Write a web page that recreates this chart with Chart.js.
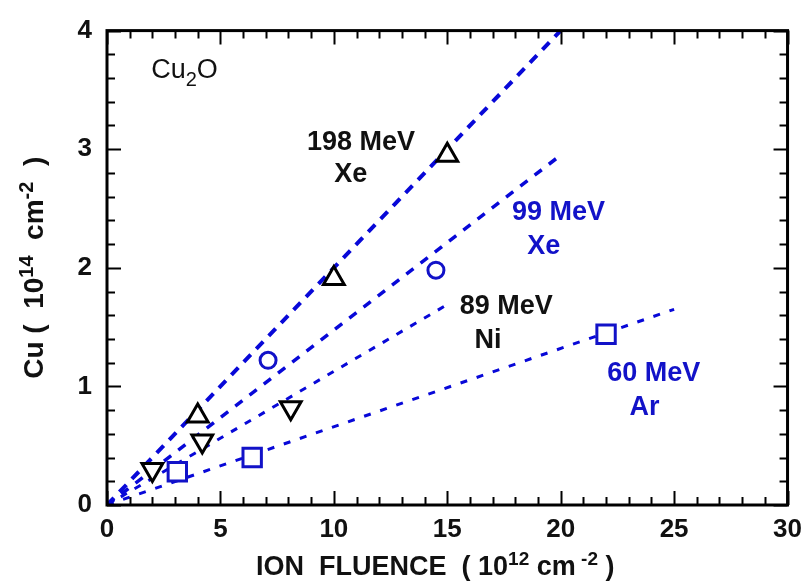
<!DOCTYPE html>
<html>
<head>
<meta charset="utf-8">
<script src="https://cdn.jsdelivr.net/npm/chart.js@4.4.1/dist/chart.umd.min.js"></script>
<style>
  html, body { margin: 0; padding: 0; background: #fff; }
</style>
</head>
<body>
<canvas id="myChart" width="811" height="583"></canvas>
<script>
// measured points
const xe198X = [4.0, 10.0, 15.0];
const xe198Y = [0.75, 1.91, 2.95];
const xe99X = [7.1, 14.5];
const xe99Y = [1.22, 1.98];
const ni89X = [2.0, 4.2, 8.1];
const ni89Y = [0.30, 0.54, 0.82];
const ar60X = [3.1, 6.4, 22.0];
const ar60Y = [0.28, 0.40, 1.44];

// fitted dashed lines (start, end)
const xe198LineX = [0, 20];
const xe198LineY = [0, 4.0];
const xe99LineX = [0, 20];
const xe99LineY = [0, 2.95];
const ni89LineX = [0, 15];
const ni89LineY = [0, 1.69];
const ar60LineX = [0, 25];
const ar60LineY = [0, 1.65];

const xTicks = [0, 5, 10, 15, 20, 25, 30];
const yTicks = [0, 1, 2, 3, 4];

const BLUE = '#1212c8';
const LINE_BLUE = '#0808d8';
const FONT = '"Liberation Sans", Arial, sans-serif';

const pts = (xs, ys) => xs.map((x, i) => ({ x: x, y: ys[i] }));

// text labels, placed in data units
const notes = [
  { text: '198 MeV', x: 11.2, y: 2.99, color: '#111' },
  { text: 'Xe', x: 10.75, y: 2.72, color: '#111' },
  { text: '99 MeV', x: 19.9, y: 2.40, color: BLUE },
  { text: 'Xe', x: 19.25, y: 2.12, color: BLUE },
  { text: '89 MeV', x: 17.6, y: 1.61, color: '#111' },
  { text: 'Ni', x: 16.8, y: 1.32, color: '#111' },
  { text: '60 MeV', x: 24.1, y: 1.045, color: BLUE },
  { text: 'Ar', x: 23.7, y: 0.76, color: BLUE }
];

function drawRuns(ctx, runs, x, y, align) {
  let total = 0;
  runs.forEach(r => { ctx.font = r.font; total += ctx.measureText(r.t).width; });
  let cx = align === 'center' ? x - total / 2 : x;
  ctx.textAlign = 'left';
  ctx.textBaseline = 'alphabetic';
  runs.forEach(r => {
    ctx.font = r.font;
    ctx.fillText(r.t, cx, y + (r.dy || 0));
    cx += ctx.measureText(r.t).width;
  });
}

const framePlugin = {
  id: 'frame',
  afterDatasetsDraw(chart) {
    const ctx = chart.ctx;
    const a = chart.chartArea;
    const xs = chart.scales.x, ys = chart.scales.y;
    ctx.save();
    ctx.strokeStyle = '#000';
    ctx.lineWidth = 2;
    ctx.beginPath();
    for (let v = 0; v <= 30; v += 1) {
      const px = Math.round(xs.getPixelForValue(v)) + 0.5;
      const len = v % 5 === 0 ? 14 : 8;
      ctx.moveTo(px, a.bottom); ctx.lineTo(px, a.bottom - len);
      ctx.moveTo(px, a.top); ctx.lineTo(px, a.top + len);
    }
    for (let i = 0; i <= 20; i++) {
      const py = Math.round(ys.getPixelForValue(i * 0.2)) + 0.5;
      const len = i % 5 === 0 ? 14 : 8;
      ctx.moveTo(a.left, py); ctx.lineTo(a.left + len, py);
      ctx.moveTo(a.right, py); ctx.lineTo(a.right - len, py);
    }
    ctx.stroke();
    ctx.lineWidth = 3;
    ctx.strokeRect(a.left, a.top, a.right - a.left, a.bottom - a.top);

    // annotations
    notes.forEach(n => {
      ctx.fillStyle = n.color;
      drawRuns(ctx, [{ t: n.text, font: 'bold 27px ' + FONT }],
        xs.getPixelForValue(n.x), ys.getPixelForValue(n.y), 'center');
    });
    ctx.fillStyle = '#111';
    drawRuns(ctx, [
      { t: 'Cu', font: '27px ' + FONT },
      { t: '2', font: '20px ' + FONT, dy: 8 },
      { t: 'O', font: '27px ' + FONT }
    ], xs.getPixelForValue(1.95), ys.getPixelForValue(3.6), 'left');

    // axis titles
    const big = 'bold 27px ' + FONT, sup = 'bold 19px ' + FONT;
    drawRuns(ctx, [
      { t: 'ION  FLUENCE  ( 10', font: big },
      { t: '12', font: sup, dy: -10 },
      { t: ' cm', font: big },
      { t: ' -2', font: sup, dy: -10 },
      { t: ' )', font: big }
    ], (a.left + a.right) / 2 - 12, 575, 'center');

    const bigY = 'bold 28px ' + FONT, supY = 'bold 20px ' + FONT;
    ctx.save();
    ctx.translate(43, (a.top + a.bottom) / 2);
    ctx.rotate(-Math.PI / 2);
    drawRuns(ctx, [
      { t: 'Cu (  10', font: bigY },
      { t: '14', font: supY, dy: -10 },
      { t: '  cm', font: bigY },
      { t: '-2', font: supY, dy: -10 },
      { t: '  )', font: bigY }
    ], 0, 0, 'center');
    ctx.restore();
    ctx.restore();
  }
};

const lineSet = (xs, ys, width, dash) => ({
  data: pts(xs, ys),
  showLine: true,
  borderColor: LINE_BLUE,
  borderWidth: width,
  borderDash: dash,
  pointRadius: 0,
  order: 2
});

const markSet = (xs, ys, style, rot, radius, color) => ({
  data: pts(xs, ys),
  showLine: false,
  pointStyle: style,
  rotation: rot,
  pointRadius: radius,
  pointBorderWidth: 3,
  pointBorderColor: color,
  pointBackgroundColor: '#fff',
  order: 1
});

const ctx = document.getElementById('myChart');
new Chart(ctx, {
  type: 'scatter',
  data: {
    datasets: [
      markSet(xe198X, xe198Y, 'triangle', 0, 12, '#000'),
      markSet(ni89X, ni89Y, 'triangle', 180, 12, '#000'),
      markSet(xe99X, xe99Y, 'circle', 0, 8, BLUE),
      markSet(ar60X, ar60Y, 'rect', 0, 13, BLUE),
      lineSet(xe198LineX, xe198LineY, 4, [10, 8]),
      lineSet(xe99LineX, xe99LineY, 3.5, [9, 9]),
      lineSet(ni89LineX, ni89LineY, 3, [7, 9]),
      lineSet(ar60LineX, ar60LineY, 3, [7, 10])
    ]
  },
  options: {
    responsive: false,
    animation: false,
    layout: { padding: { left: 0, top: 19, right: 18, bottom: 0 } },
    plugins: { legend: { display: false }, tooltip: { enabled: false } },
    scales: {
      x: {
        type: 'linear', min: 0, max: 30,
        afterBuildTicks: s => { s.ticks = xTicks.map(v => ({ value: v })); },
        afterFit: s => { s.height = 78; },
        grid: { display: false, drawTicks: false },
        border: { display: false },
        ticks: { color: '#111', padding: 9, font: { family: FONT, size: 26, weight: 'bold' } }
      },
      y: {
        type: 'linear', min: 0, max: 4,
        afterBuildTicks: s => { s.ticks = yTicks.map(v => ({ value: v })); },
        afterFit: s => { s.width = 107; },
        grid: { display: false, drawTicks: false },
        border: { display: false },
        ticks: { color: '#111', padding: 15, font: { family: FONT, size: 26, weight: 'bold' } }
      }
    }
  },
  plugins: [framePlugin]
});
</script>
</body>
</html>
